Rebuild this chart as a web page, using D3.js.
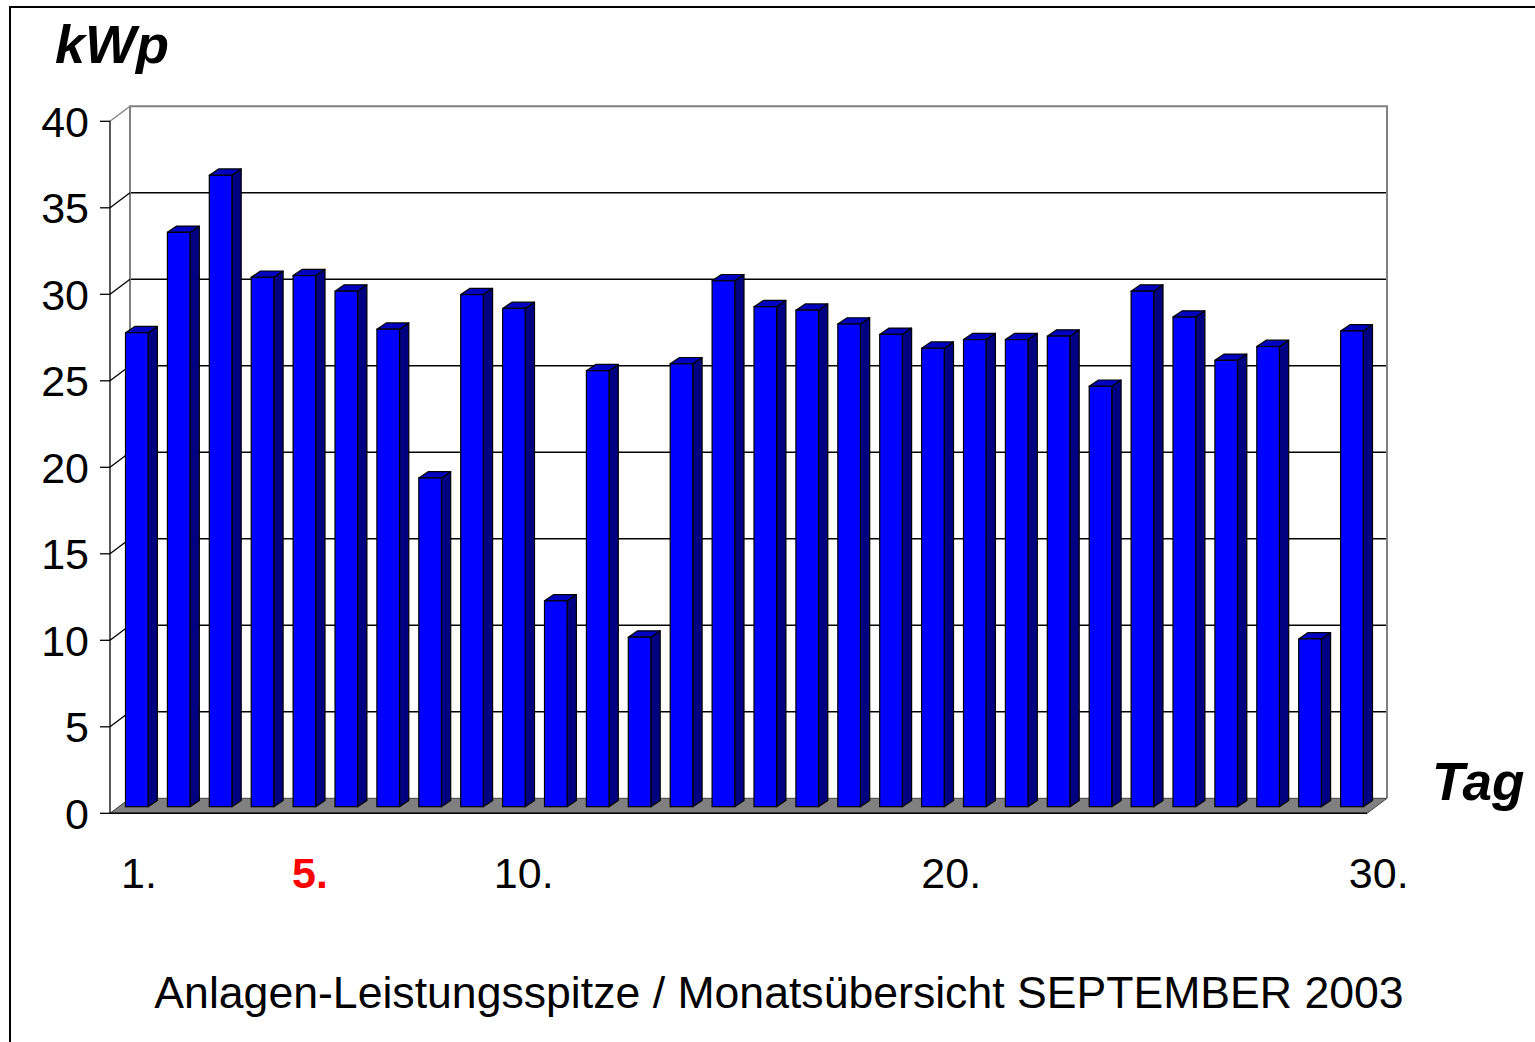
<!DOCTYPE html>
<html><head><meta charset="utf-8">
<script src="https://cdn.jsdelivr.net/npm/d3@7"></script>
<style>body{margin:0;background:#fff} svg{display:block} text{font-family:"Liberation Sans",Arial,sans-serif}</style>
</head><body><svg id="c" width="1535" height="1042"></svg>
<script>
const days = [1,2,3,4,5,6,7,8,9,10,11,12,13,14,15,16,17,18,19,20,21,22,23,24,25,26,27,28,29,30];
const values = [27.4,33.2,36.5,30.6,30.7,29.8,27.6,19.0,29.6,28.8,11.9,25.2,9.8,25.6,30.4,28.9,28.7,27.9,27.3,26.5,27.0,27.0,27.2,24.3,29.8,28.3,25.8,26.6,9.7,27.5];
const yTicks = [0,5,10,15,20,25,30,35,40];
const xLabelDays = [1,5,10,20,30];
const xLabelText = ["1.","5.","10.","20.","30."];
const highlightDay = 5;
const yTitle = "kWp";
const xTitle = "Tag";
const caption = "Anlagen-Leistungsspitze / Monatsübersicht SEPTEMBER 2003";

const svg = d3.select("#c");

// outer frame
svg.append("rect").attr("x",10).attr("y",7).attr("width",1700).attr("height",1200)
  .attr("fill","none").attr("stroke","#000").attr("stroke-width",2);

const frontY0 = 813.3, frontX0 = 110, frontX1 = 1367;
const D = {dx:20, dy:-15};          // wall depth
const B = {dx:8.8, dy:-6.6};        // bar plane offset from front
const C = {dx:9.3, dy:-6.3};        // bar depth

const y = d3.scaleLinear().domain([0,40]).range([frontY0, frontY0-692]);
const yf = v => y(v);
const yb = v => y(v) + D.dy;
const x = d3.scaleBand().domain(days).range([frontX0, frontX1]).padding(0);
const xl = d3.scaleBand().domain(days).range([117.6, 1400.1]).padding(0);

const backL = frontX0 + D.dx, backR = frontX1 + D.dx;

// back wall gridlines
const g = svg.append("g");
g.selectAll("line.grid").data(yTicks.filter(v=>v>0 && v<40)).join("line")
  .attr("x1",backL).attr("x2",backR).attr("y1",d=>yb(d)).attr("y2",d=>yb(d))
  .attr("stroke","#000").attr("stroke-width",1.5);
// back wall frame (gray)
g.append("path").attr("d",`M${backL},${yb(0)}V${yb(40)}H${backR}V${yb(0)}`)
  .attr("fill","none").attr("stroke","#808080").attr("stroke-width",2);
// side wall diagonals
g.selectAll("line.diag").data(yTicks.filter(v=>v>0)).join("line")
  .attr("x1",frontX0).attr("y1",d=>yf(d)).attr("x2",backL).attr("y2",d=>yb(d))
  .attr("stroke",d=>d===40?"#808080":"#000").attr("stroke-width",1.3);

// floor
g.append("path").attr("d",`M${frontX0},${yf(0)}L${frontX1},${yf(0)}L${backR},${yb(0)}L${backL},${yb(0)}Z`)
  .attr("fill","#808080").attr("stroke","#404040").attr("stroke-width",1);
g.append("line").attr("x1",frontX0).attr("x2",frontX1).attr("y1",yf(0)).attr("y2",yf(0))
  .attr("stroke","#000").attr("stroke-width",1.5);

// y axis
g.append("line").attr("x1",frontX0).attr("x2",frontX0).attr("y1",yf(40)).attr("y2",yf(0))
  .attr("stroke","#000").attr("stroke-width",1.3);
g.selectAll("line.tick").data(yTicks).join("line")
  .attr("x1",frontX0-10).attr("x2",frontX0).attr("y1",d=>yf(d)).attr("y2",d=>yf(d))
  .attr("stroke","#000").attr("stroke-width",1.3);
g.selectAll("text.ytl").data(yTicks).join("text")
  .attr("x",89).attr("y",d=>yf(d)).attr("dy","0.36em").attr("text-anchor","end")
  .attr("font-size",43).text(d=>d);

// bars
const bw = 22.6;
const bars = svg.append("g").selectAll("g").data(days.map((d,i)=>({d,v:values[i]}))).join("g");
bars.each(function(p){
  const gg = d3.select(this);
  const bx = x(p.d) + x.step()*0.16 + B.dx;
  const base = y(0) + B.dy;
  const top = y(p.v) + B.dy;
  gg.append("path").attr("d",`M${bx+bw},${base}L${bx+bw+C.dx},${base+C.dy}L${bx+bw+C.dx},${top+C.dy}L${bx+bw},${top}Z`)
    .attr("fill","#000080").attr("stroke","#000").attr("stroke-width",1.2).attr("stroke-linejoin","round");
  gg.append("path").attr("d",`M${bx},${top}L${bx+bw},${top}L${bx+bw+C.dx},${top+C.dy}L${bx+C.dx},${top+C.dy}Z`)
    .attr("fill","#0000C0").attr("stroke","#000").attr("stroke-width",1.2).attr("stroke-linejoin","round");
  gg.append("rect").attr("x",bx).attr("y",top).attr("width",bw).attr("height",base-top)
    .attr("fill","#0000FF").attr("stroke","#000").attr("stroke-width",1.2);
});

// x labels
svg.selectAll("text.xl").data(xLabelDays).join("text")
  .attr("x",d=>xl(d)+xl.bandwidth()/2).attr("y",888).attr("text-anchor","middle")
  .attr("font-size",43)
  .attr("font-weight",d=>d===highlightDay?"bold":"normal")
  .attr("fill",d=>d===highlightDay?"#FF0000":"#000")
  .text((d,i)=>xLabelText[i]);

// titles
svg.append("text").attr("x",55).attr("y",63).attr("font-size",54).attr("font-weight","bold")
  .attr("font-style","italic").text(yTitle);
svg.append("text").attr("x",1432).attr("y",800).attr("font-size",53).attr("font-weight","bold")
  .attr("font-style","italic").text(xTitle);
svg.append("text").attr("x",779).attr("y",1008).attr("text-anchor","middle").attr("font-size",44.6)
  .text(caption);
</script></body></html>
